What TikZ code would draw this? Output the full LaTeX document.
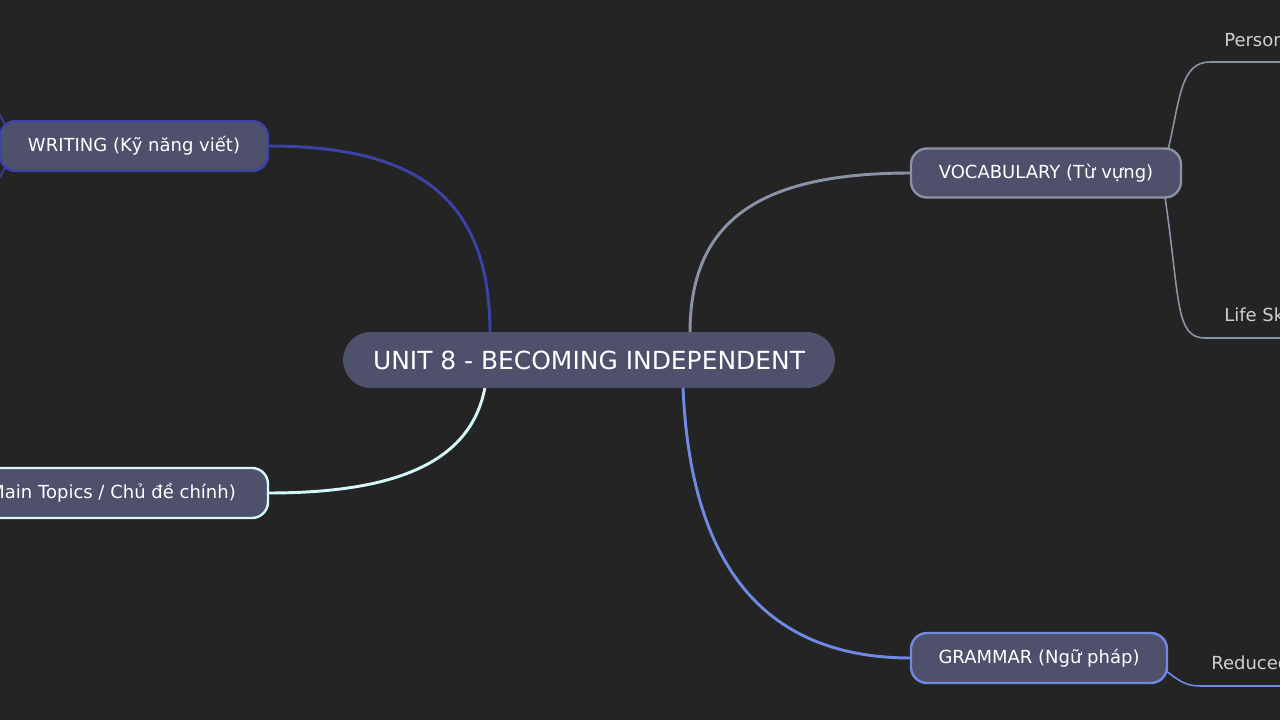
\documentclass[tikz,border=0pt]{standalone}
\usepackage{fontspec}
\setmainfont{DejaVu Sans}
\definecolor{bg}{HTML}{242424}
\definecolor{nodefill}{HTML}{4E506C}
\definecolor{cW}{HTML}{3C42A6}
\definecolor{cM}{HTML}{D6F8F8}
\definecolor{cV}{HTML}{8A93A6}
\definecolor{cG}{HTML}{7089E2}
\definecolor{lbl}{HTML}{CFCFCF}
\begin{document}
\begin{tikzpicture}[x=0.75pt,y=-0.75pt,
  box/.style={draw,line width=1.8pt,fill=nodefill,rounded corners=12pt,text=white,font=\fontsize{13.5}{15}\selectfont,inner sep=0pt},
  conn/.style={line width=2.2pt},
  sub/.style={line width=1.2pt},
  lab/.style={text=lbl,font=\fontsize{13.5}{15}\selectfont,anchor=west,inner sep=0pt}]
\fill[bg] (0,0) rectangle (1280,720);
\useasboundingbox (0,0) rectangle (1280,720);
\clip (0,0) rectangle (1280,720);
% connectors
\coordinate (rWt) at (490,333);
\coordinate (rMb) at (485,387);
\coordinate (rVt) at (690,333);
\coordinate (rGb) at (683,387);
\coordinate (wE) at (268,146);
\coordinate (mE) at (268,493);
\coordinate (vW) at (911,173);
\coordinate (gW) at (911,658);
\draw[conn,cW] (rWt) .. controls (490,200) and (420,146) .. (wE);
\draw[conn,cM] (rMb) .. controls (470,470) and (380,493) .. (mE);
\draw[conn,cV] (rVt) .. controls (690,220) and (760,173) .. (vW);
\draw[conn,cG] (rGb) .. controls (690,560) and (760,658) .. (gW);
% sub branches
\coordinate (p1) at (1168,150);
\coordinate (p2) at (1280,62);
\coordinate (l1) at (1165,197);
\coordinate (l2) at (1280,338);
\coordinate (g1) at (1165,670);
\coordinate (g2) at (1280,686);
\draw[sub,cV] (p1) .. controls (1180,100) and (1180,62) .. (1210,62) -- (p2);
\draw[sub,cV] (l1) .. controls (1180,300) and (1175,338) .. (1205,338) -- (l2);
\draw[sub,cG] (g1) .. controls (1185,686) and (1190,686) .. (1205,686) -- (g2);
\coordinate (w1) at (0,115);
\coordinate (w2) at (0,177);
\draw[sub,cW] (w1) -- (8,130);
\draw[sub,cW] (w2) -- (8,162);
% nodes
\node[box,draw=none,minimum width=492pt*0.75,minimum height=56pt*0.75,rounded corners=21pt,font=\fontsize{18.7}{20}\selectfont] (root) at (589,360) {UNIT 8 - BECOMING INDEPENDENT};
\node[box,draw=cW,minimum width=268pt*0.75,minimum height=50pt*0.75] (writing) at (134,146) {WRITING (Kỹ năng viết)};
\node[box,draw=cM,minimum width=300pt*0.75,minimum height=50pt*0.75] (main) at (118,493) {};
\node[text=white,font=\fontsize{13.5}{15}\selectfont,anchor=east,inner sep=0pt] (mainT) at (236,493) {Main Topics / Chủ đề chính)};
\node[box,draw=cV,minimum width=270pt*0.75,minimum height=49pt*0.75] (vocab) at (1046,173) {VOCABULARY (Từ vựng)};
\node[box,draw=cG,minimum width=256pt*0.75,minimum height=50pt*0.75] (grammar) at (1039,658) {GRAMMAR (Ngữ pháp)};
\node[lab] (pers) at (1224,40) {Personal};
\node[lab] (life) at (1224,315) {Life Skills};
\node[lab] (red) at (1211,663) {Reduced};
\end{tikzpicture}
\end{document}
